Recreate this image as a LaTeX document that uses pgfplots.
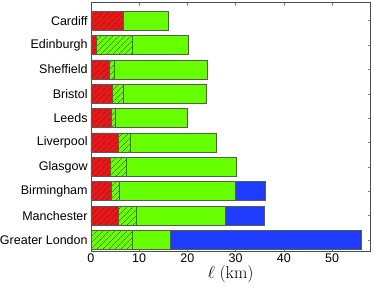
\documentclass[border=0pt]{standalone}
\usepackage[no-math]{fontspec}
\setmainfont{Liberation Sans}
\usepackage{pgfplots}
\pgfplotsset{compat=1.18}
\usetikzlibrary{patterns.meta}
\definecolor{cred}{RGB}{240,20,20}
\definecolor{cgreen}{RGB}{102,255,0}
\definecolor{cblue}{RGB}{30,60,255}
\begin{document}
\begin{tikzpicture}
\begin{axis}[
  scale only axis,
  width=279.7pt, height=248pt,
  xbar stacked,
  bar width=0.78,
  xmin=0, xmax=58,
  ymin=-0.45, ymax=9.74,
  xtick={0,10,20,30,40,50},
  ytick={0,...,9},
  yticklabels={Greater London,Manchester,Birmingham,Glasgow,Liverpool,Leeds,Bristol,Sheffield,Edinburgh,Cardiff},
  tick align=inside,
  major tick length=3pt,
  tick style={black!50, line width=0.5pt},
  axis line style={black!70, line width=0.6pt},
  ticklabel style={font=\fontsize{12.5}{14}\selectfont},
  /pgf/number format/assume math mode=true,
  yticklabel style={inner sep=0pt, xshift=-3pt},
  xticklabel style={yshift=1pt},
  xlabel={$\ell\ (\mathrm{km})$},
  xlabel style={font=\fontsize{16}{18}\selectfont, yshift=4pt},
  every axis plot/.append style={draw=black!65, line width=0.6pt},
]
\addplot[fill=cred, postaction={pattern={Lines[angle=45,distance=4pt,line width=0.45pt]}, pattern color=black!80}] coordinates {
(0,0) (5.7,1) (4.3,2) (4.1,3) (5.7,4) (4.2,5) (4.5,6) (3.8,7) (1.2,8) (6.7,9)};
\addplot[fill=cgreen, postaction={pattern={Lines[angle=45,distance=4pt,line width=0.45pt]}, pattern color=black!80}] coordinates {
(8.6,0) (3.7,1) (1.6,2) (3.2,3) (2.4,4) (0.9,5) (2.3,6) (1.1,7) (7.4,8) (0,9)};
\addplot[fill=cgreen] coordinates {
(7.8,0) (18.5,1) (24.0,2) (22.8,3) (18.0,4) (14.9,5) (17.2,6) (19.2,7) (11.5,8) (9.4,9)};
\addplot[fill=cblue] coordinates {
(39.6,0) (8.1,1) (6.2,2) (0,3) (0,4) (0,5) (0,6) (0,7) (0,8) (0,9)};
\coordinate (tr) at (rel axis cs:1,1);
\end{axis}
\path (tr) ++(3.3pt,2.7pt);
\end{tikzpicture}
\end{document}
